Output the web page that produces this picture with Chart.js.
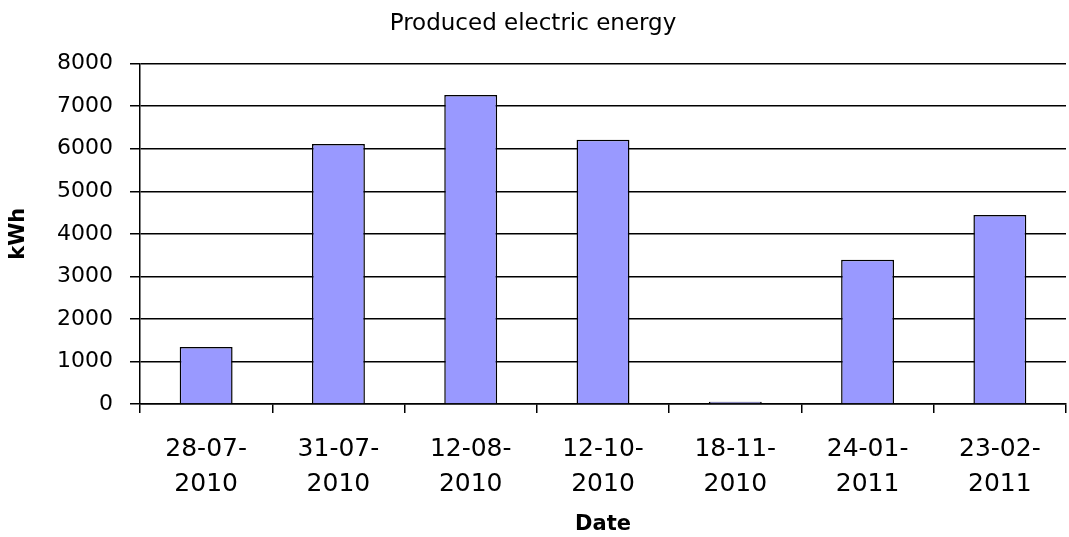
<!DOCTYPE html>
<html>
<head>
<meta charset="utf-8">
<script src="https://cdn.jsdelivr.net/npm/chart.js@4"></script>
<style>
  html, body { margin: 0; padding: 0; background: #fff; }
  #wrap { width: 1069px; height: 537px; }
</style>
</head>
<body>
<div id="wrap"><canvas id="chart"></canvas></div>
<script>
const dates = [["28-07-", "2010"], ["31-07-", "2010"], ["12-08-", "2010"], ["12-10-", "2010"], ["18-11-", "2010"], ["24-01-", "2011"], ["23-02-", "2011"]];
const energyKwh = [1340, 6110, 7260, 6210, 50, 3390, 4440];
const yTicks = [0, 1000, 2000, 3000, 4000, 5000, 6000, 7000, 8000];

const font = "'DejaVu Sans', 'Liberation Sans', Arial, sans-serif";

new Chart(document.getElementById("chart").getContext("2d"), {
    type: "bar",
    data: {
        labels: dates,
        datasets: [{
            label: "kWh",
            data: energyKwh,
            backgroundColor: "#9999ff",
            borderColor: "#000000",
            borderWidth: 1.5,
            barPercentage: 0.4,
            categoryPercentage: 1.0
        }]
    },
    options: {
        responsive: true,
        maintainAspectRatio: false,
        animation: false,
        layout: { padding: { top: 0, right: 3, bottom: 0, left: 0 } },
        plugins: {
            legend: { display: false },
            tooltip: { enabled: false },
            title: {
                display: true,
                text: "Produced electric energy",
                color: "#000",
                font: { family: font, size: 23, weight: "normal" },
                padding: { top: 10, bottom: 26 }
            }
        },
        scales: {
            x: {
                afterFit: (scale) => { scale.height = 133; },
                grid: { drawOnChartArea: false, drawTicks: true, tickLength: 9, color: "#000", lineWidth: 1.5, offset: true },
                border: { color: "#000", width: 1.5 },
                ticks: { color: "#000", font: { family: font, size: 25, lineHeight: 1.4 }, maxRotation: 0, padding: 19 },
                title: { display: true, text: "Date", color: "#000", font: { family: font, size: 21, weight: "bold" }, padding: { top: 0, bottom: 0 } }
            },
            y: {
                min: 0,
                max: 8000,
                afterFit: (scale) => { scale.width = 140; },
                afterBuildTicks: (scale) => { scale.ticks = yTicks.map(v => ({ value: v })); },
                grid: { color: "#000", lineWidth: 1.5, tickLength: 10 },
                border: { color: "#000", width: 1.5 },
                ticks: { color: "#000", font: { family: font, size: 22 }, padding: 17, callback: (v) => String(v) },
                title: { display: true, text: "kWh", color: "#000", font: { family: font, size: 21, weight: "bold" }, padding: { top: 6, bottom: 0 } }
            }
        }
    }
});
</script>
</body>
</html>
